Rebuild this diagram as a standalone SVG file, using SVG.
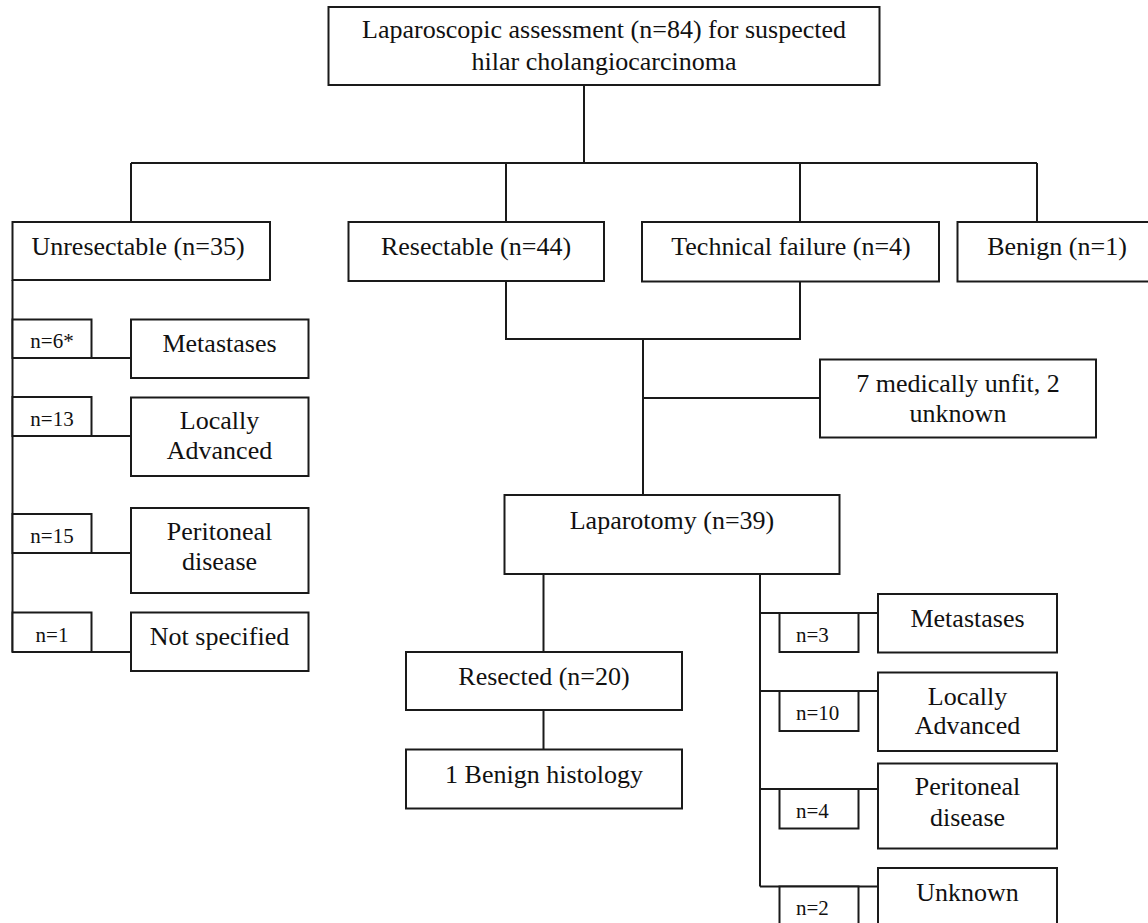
<svg xmlns="http://www.w3.org/2000/svg" width="1148" height="923" viewBox="0 0 1148 923">
<style>
.b{fill:#fff;stroke:#1a1a1a;stroke-width:2}
.c{fill:none;stroke:#1a1a1a;stroke-width:2}
text{font-family:"Liberation Serif","Times New Roman",serif;font-size:26px;fill:#111;text-anchor:middle}
.s{font-size:21px}
.l{text-anchor:start}
</style>
<rect width="1148" height="923" fill="#fff"/>
<g id="connectors">
<path class="c" d="M584,85V163M131,163H1037M131,163V222M506,163V222M800,163V222M1037,163V222"/>
<path class="c" d="M12.5,280V652M12.5,358H131M12.5,436H131M12.5,553H131M12.5,652H131"/>
<path class="c" d="M506,281V339H800V281M643,339V495M643,398H820"/>
<path class="c" d="M543.5,574V652M543.5,710V749.5"/>
<path class="c" d="M760,574V886.5M760,613H878M760,691H878M760,789H878M760,886.5H878"/>
</g>
<g id="n-top"><rect class="b" x="328.5" y="7" width="551" height="78"/><text x="604" y="38">Laparoscopic assessment (n=84) for suspected</text><text x="604" y="70">hilar cholangiocarcinoma</text></g>
<g id="n-unres"><rect class="b" x="12.5" y="222" width="257.5" height="58"/><text x="138" y="255">Unresectable (n=35)</text></g>
<g id="n-resect"><rect class="b" x="348.5" y="222" width="255.5" height="59"/><text x="476" y="255">Resectable (n=44)</text></g>
<g id="n-tf"><rect class="b" x="642" y="222" width="297" height="59.5"/><text x="791" y="255">Technical failure (n=4)</text></g>
<g id="n-benign"><rect class="b" x="957.5" y="222" width="200" height="59.5"/><text x="1057" y="255">Benign (n=1)</text></g>
<g id="n-l6"><rect class="b" x="12.5" y="319.5" width="79" height="38.5"/><text class="s" x="52" y="348">n=6*</text></g>
<g id="n-lmet"><rect class="b" x="131" y="319.5" width="177.5" height="58.5"/><text x="219.5" y="352">Metastases</text></g>
<g id="n-l13"><rect class="b" x="12.5" y="397" width="79" height="39"/><text class="s" x="52" y="426">n=13</text></g>
<g id="n-lla"><rect class="b" x="131" y="397.5" width="177.5" height="78.5"/><text x="219.5" y="429">Locally</text><text x="219.5" y="459">Advanced</text></g>
<g id="n-l15"><rect class="b" x="12.5" y="514" width="79" height="39"/><text class="s" x="52" y="542.5">n=15</text></g>
<g id="n-lpd"><rect class="b" x="131" y="508" width="177.5" height="85"/><text x="219.5" y="540">Peritoneal</text><text x="219.5" y="570">disease</text></g>
<g id="n-l1"><rect class="b" x="12.5" y="612.5" width="79" height="39.5"/><text class="s" x="52" y="641.5">n=1</text></g>
<g id="n-lns"><rect class="b" x="131" y="612.5" width="177.5" height="58.5"/><text x="219.5" y="645">Not specified</text></g>
<g id="n-unfit"><rect class="b" x="820" y="359.5" width="276" height="78"/><text x="958" y="392">7 medically unfit, 2</text><text x="958" y="421.5">unknown</text></g>
<g id="n-lap"><rect class="b" x="504.5" y="495" width="335" height="79"/><text x="672" y="529">Laparotomy (n=39)</text></g>
<g id="n-resected"><rect class="b" x="406" y="652" width="276" height="58"/><text x="544" y="684.5">Resected (n=20)</text></g>
<g id="n-bh"><rect class="b" x="406" y="749.5" width="276" height="59"/><text x="544" y="782.5">1 Benign histology</text></g>
<g id="n-r3"><rect class="b" x="779.5" y="613" width="79" height="39"/><text class="s l" x="796" y="641.5">n=3</text></g>
<g id="n-rmet"><rect class="b" x="878" y="594" width="179" height="58.5"/><text x="967.5" y="626.5">Metastases</text></g>
<g id="n-r10"><rect class="b" x="779.5" y="691" width="79" height="40"/><text class="s l" x="796" y="719.5">n=10</text></g>
<g id="n-rla"><rect class="b" x="878" y="672.5" width="179" height="78.5"/><text x="967.5" y="705">Locally</text><text x="967.5" y="734">Advanced</text></g>
<g id="n-r4"><rect class="b" x="779.5" y="789" width="79" height="39.5"/><text class="s l" x="796" y="817.5">n=4</text></g>
<g id="n-rpd"><rect class="b" x="878" y="763.5" width="179" height="85"/><text x="967.5" y="795">Peritoneal</text><text x="967.5" y="826">disease</text></g>
<g id="n-r2"><rect class="b" x="779.5" y="886.5" width="79" height="50"/><text class="s l" x="796" y="915">n=2</text></g>
<g id="n-runk"><rect class="b" x="878" y="868" width="179" height="70"/><text x="967.5" y="900.5">Unknown</text></g>
</svg>
